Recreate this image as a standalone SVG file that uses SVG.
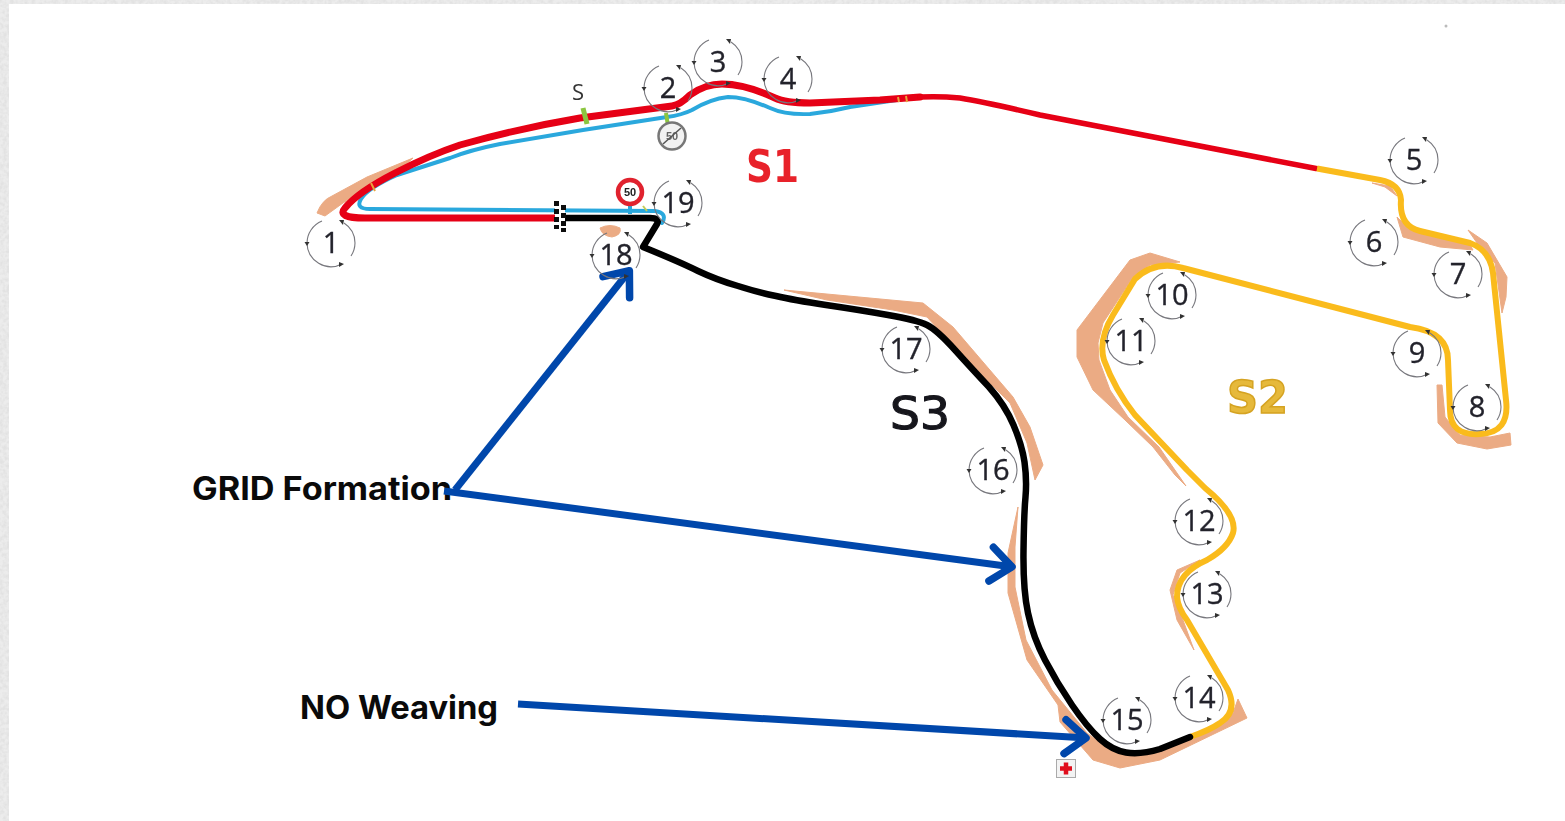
<svg xmlns="http://www.w3.org/2000/svg" width="1565" height="821" viewBox="0 0 1565 821">
<style>
.trk{fill:none;stroke-linecap:round;stroke-linejoin:round}
.kerb{fill:#ebab84;stroke:#ebab84;stroke-width:1;stroke-linejoin:round}
.num{font-family:"Open Sans","Liberation Sans",sans-serif;font-size:29px;fill:#23232c;stroke:#23232c;stroke-width:.35;text-anchor:middle}
.arm{fill:none;stroke:#0047ab;stroke-width:7;stroke-linecap:butt;marker-end:url(#chev)}
.lab{font-family:Inter,"Liberation Sans",sans-serif;font-weight:700;font-size:32px;fill:#0a0a0a}
.sec{font-family:"DejaVu Sans","Liberation Sans",sans-serif;font-size:45px}
</style>
<defs>
<filter id="noise" x="0" y="0" width="100%" height="100%">
<feTurbulence type="fractalNoise" baseFrequency="0.28" numOctaves="2" seed="4"/>
<feColorMatrix values="0 0 0 0 0.76  0 0 0 0 0.76  0 0 0 0 0.76  2.5 0 0 0 -0.85"/>
</filter>
<filter id="soft" filterUnits="userSpaceOnUse" x="0" y="0" width="1565" height="821"><feGaussianBlur stdDeviation="0.5"/></filter>
<marker id="chev" markerUnits="userSpaceOnUse" markerWidth="40" markerHeight="44" refX="30" refY="22" orient="auto">
<path d="M8 5L29 22L8 39" fill="none" stroke="#0047ab" stroke-width="7.500" stroke-linecap="round" stroke-linejoin="round"/>
</marker>
<g id="ring" fill="none" stroke="#77777d" stroke-width="1.100">
<path d="M-24 0A24 24 0 0 1 -9 -22"/>
<path d="M13 -20A24 24 0 0 1 24 0A24 24 0 0 1 20 13"/>
<path d="M11 21A24 24 0 0 1 -24 0"/>
<path d="M-24 3L-26.500 -1L-21.500 -1Z" fill="#333" stroke="none"/>
<path d="M8 -23L13 -23L12 -18Z" fill="#333" stroke="none"/>
<path d="M8 19L13 21L8 24Z" fill="#333" stroke="none"/>
</g>
</defs>
<rect width="1565" height="821" fill="#ececec"/>
<rect width="1565" height="821" filter="url(#noise)"/>
<rect x="9" y="4" width="1556" height="817" fill="#fff"/>

<g id="track" filter="url(#soft)">
<g id="kerbs">
<path class="kerb" d="M317 213Q322 200 332 196L367 177L413 158L400 170L370 187L343 203L325 216Z"/>
<path class="kerb" d="M600 228Q610 223 620 228Q622 235 612 237Q602 236 600 228Z"/>
<path class="kerb" d="M784 290L923 303L953 327L1013 397L1030 427L1043 465L1035 480L1027 443L1010 403L960 353L927 317L893 310L827 300Z"/>
<path class="kerb" d="M1018 507L1008 553L1008 593L1027 660L1058 705L1060 722L1093 760L1120 768L1160 760L1247 718L1238 699L1233 713L1220 723L1190 737L1140 755L1110 750L1087 733L1052 690L1026 640L1015 587L1015 547Z"/>
<path class="kerb" d="M1200 560L1177 570L1170 590L1177 620L1194 650L1180 612L1173 595L1180 573Z"/>
<path class="kerb" d="M1372 183L1390 186L1397 196L1385 187Z"/>
<path class="kerb" d="M1397 217L1403 237L1440 247L1473 250L1470 245L1417 232L1402 222Z"/>
<path class="kerb" d="M1468 230L1487 243L1507 277L1506 297L1502 313L1495 263L1477 243Z"/>
<path class="kerb" d="M1437 385L1442 385L1445 417L1460 435L1490 437L1510 433L1511 445L1487 449L1457 443L1438 423Z"/>
<path class="kerb" d="M1180 262L1150 253L1130 260L1077 330L1077 357L1093 390L1125 420L1153 447L1175 475L1186 486L1159 447L1128 417L1110 390L1099 360L1098 343L1103 323L1133 277L1150 265Z"/>
</g>
<path class="trk" stroke="#2aa8dd" stroke-width="4" d="M662 223Q668 213 655 211L370 209Q355 209 361 199Q368 188 397 175L450 158Q470 150 500 144L583 130L667 117Q682 115 692 110Q710 99 728 97Q745 97 770 108Q785 115 810 114Q830 112 850 107L910 98"/>
<path class="trk" stroke="#e60012" stroke-width="7" d="M556 218L365 218Q336 218 345 208Q358 192 395 173Q430 155 460 145Q520 128 580 118L672 106Q680 105 690 95Q705 84 722 84Q745 84 775 98Q785 103 810 103L880 100L920 97"/>
<path class="trk" stroke="#e60012" stroke-width="5.500" d="M920 97Q940 96 960 98Q985 102 1040 115L1316 168.500"/>
<path class="trk" stroke="#fabb1c" stroke-width="6" style="stroke-linecap:butt" d="M1317 168.500L1380 180Q1400 184 1401 200Q1399 226 1420 231L1470 243Q1490 250 1493 273L1506 400Q1510 433 1480 434Q1450 436 1450 410L1448 360Q1448 332 1410 327L1183 268Q1155 260 1135 279L1113 315Q1098 340 1104 360Q1115 390 1135 415L1187 470L1205 488Q1238 515 1233 533Q1228 548 1207 560Q1177 573 1177 597Q1178 608 1187 620L1228 690Q1238 712 1220 723Q1210 730 1190 737"/>
<path class="trk" stroke="#000" stroke-width="6.500" d="M1190 737L1160 749Q1140 755 1126 752.500Q1112 750 1100 739Q1087 727 1072 705Q1057 683 1045 660Q1033 637 1028 613Q1023 590 1023.500 551Q1024 513 1025.500 497Q1027 480 1024.500 462Q1022 445 1013.500 425Q1005 405 989 387Q973 370 955 350Q937 330 927 325Q917 320 888 315Q860 310 826 305Q793 300 776 296Q760 293 738 286Q717 280 698 271Q680 262 643 247L657 224Q660 218 650 218L563 218"/>
<path fill="none" stroke="#2aa8dd" stroke-width="4" d="M630 205V214"/>
<path fill="none" stroke="#c5cc55" stroke-width="2" d="M643 206L647 211"/>
<path fill="none" stroke="#e8a33c" stroke-width="2" d="M371 183L375 191"/>
<path fill="none" stroke="#e8a33c" stroke-width="2" d="M898 97L899 102M906 96L907 102"/>
<path fill="none" stroke="#8cc63f" stroke-width="5" d="M583 108L587 124"/>
<path fill="none" stroke="#8cc63f" stroke-width="4" d="M666 113L668 126"/>
<g id="flag"><rect x="555" y="201" width="10" height="31" fill="#fff"/>
<path fill="#111" d="M554 201h5v5h-5zM561 205h5v5h-5zM554 209h5v5h-5zM561 213h5v5h-5zM554 217h5v5h-5zM561 221h5v5h-5zM554 225h5v4h-5zM561 228h5v4h-5z"/></g>
<g id="sign-50"><circle cx="630" cy="192" r="12" fill="#fff" stroke="#e0222e" stroke-width="4.500"/><text x="630" y="196" font-family="'Liberation Sans',sans-serif" font-size="11" font-weight="700" fill="#222" text-anchor="middle">50</text></g>
<g id="sign-end"><circle cx="672" cy="136" r="13.500" fill="#f2f2f2" stroke="#777" stroke-width="2.500"/><text x="672" y="140" font-family="'Liberation Sans',sans-serif" font-size="11" font-weight="700" fill="#666" text-anchor="middle">50</text><path d="M663 144L681 128" stroke="#555" stroke-width="1.500"/></g>
<g id="medical"><rect x="1056.500" y="759.500" width="19" height="18" fill="#f3f3f3" stroke="#aaa"/><path d="M1066 762.500v12M1060 768.500h12" stroke="#e0101e" stroke-width="4.500"/></g>
<circle cx="1446" cy="26" r="1.500" fill="#bbb"/>
</g>

<g id="sectors" filter="url(#soft)">
<text id="s1" class="sec" x="746" y="182" fill="#e8242a" font-weight="700" textLength="53" lengthAdjust="spacingAndGlyphs">S1</text>
<text id="s2" class="sec" x="1227" y="413" fill="#e6b93a" stroke="#d5a322" stroke-width="1.500" font-weight="700" textLength="61" lengthAdjust="spacingAndGlyphs">S2</text>
<text id="s3" class="sec" x="890" y="429" fill="#15151c" stroke="#15151c" stroke-width="1.200" textLength="60" lengthAdjust="spacingAndGlyphs">S3</text>
<text id="s" x="578" y="100" font-family="'Open Sans',sans-serif" font-size="22" fill="#333" text-anchor="middle">S</text>
</g>

<text id="label-grid" class="lab" x="192" y="500" textLength="260" lengthAdjust="spacingAndGlyphs">GRID Formation</text>
<text id="label-weave" class="lab" x="300" y="719" textLength="198" lengthAdjust="spacingAndGlyphs">NO Weaving</text>

<g id="connectors">
<line class="arm" x1="455" y1="490" x2="630" y2="270"/>
<line class="arm" x1="444" y1="491" x2="1013" y2="567"/>
<line class="arm" x1="518" y1="704" x2="1087" y2="738"/>
</g>

<g id="turns" filter="url(#soft)">
<g id="turn-1"><use href="#ring" x="331" y="243"/><text class="num" x="331" y="253">1</text></g>
<g id="turn-2"><use href="#ring" x="668" y="88"/><text class="num" x="668" y="98">2</text></g>
<g id="turn-3"><use href="#ring" x="718" y="62"/><text class="num" x="718" y="72">3</text></g>
<g id="turn-4"><use href="#ring" x="788" y="79"/><text class="num" x="788" y="89">4</text></g>
<g id="turn-5"><use href="#ring" x="1414" y="160"/><text class="num" x="1414" y="170">5</text></g>
<g id="turn-6"><use href="#ring" x="1374" y="242"/><text class="num" x="1374" y="252">6</text></g>
<g id="turn-7"><use href="#ring" x="1458" y="274"/><text class="num" x="1458" y="284">7</text></g>
<g id="turn-8"><use href="#ring" x="1477" y="407"/><text class="num" x="1477" y="417">8</text></g>
<g id="turn-9"><use href="#ring" x="1417" y="353"/><text class="num" x="1417" y="363">9</text></g>
<g id="turn-10"><use href="#ring" x="1172" y="295"/><text class="num" x="1172" y="305">10</text></g>
<g id="turn-11"><use href="#ring" x="1131" y="341"/><text class="num" x="1131" y="351">11</text></g>
<g id="turn-12"><use href="#ring" x="1199" y="521"/><text class="num" x="1199" y="531">12</text></g>
<g id="turn-13"><use href="#ring" x="1207" y="594"/><text class="num" x="1207" y="604">13</text></g>
<g id="turn-14"><use href="#ring" x="1199" y="698"/><text class="num" x="1199" y="708">14</text></g>
<g id="turn-15"><use href="#ring" x="1127" y="720"/><text class="num" x="1127" y="730">15</text></g>
<g id="turn-16"><use href="#ring" x="993" y="470"/><text class="num" x="993" y="480">16</text></g>
<g id="turn-17"><use href="#ring" x="906" y="349"/><text class="num" x="906" y="359">17</text></g>
<g id="turn-18"><use href="#ring" x="616" y="255"/><text class="num" x="616" y="265">18</text></g>
<g id="turn-19"><use href="#ring" x="678" y="203"/><text class="num" x="678" y="213">19</text></g>
</g>
</svg>
